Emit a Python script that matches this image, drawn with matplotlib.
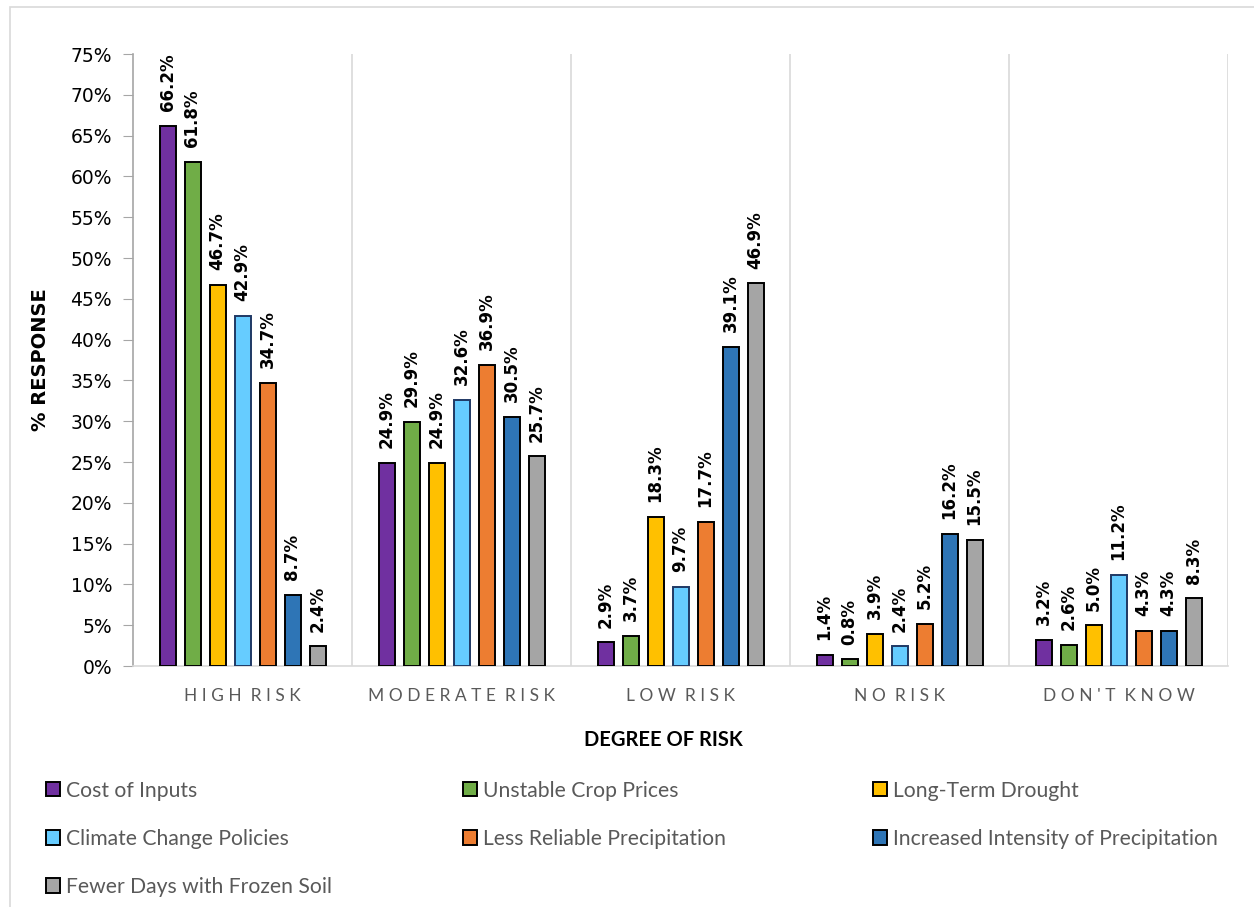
import matplotlib
matplotlib.use("Agg")
import matplotlib.pyplot as plt
from matplotlib.patches import Rectangle, Patch
import numpy as np

categories = ["HIGH RISK", "MODERATE RISK", "LOW RISK", "NO RISK", "DON'T KNOW"]
series_names = [
    "Cost of Inputs",
    "Unstable Crop Prices",
    "Long-Term Drought",
    "Climate Change Policies",
    "Less Reliable Precipitation",
    "Increased Intensity of Precipitation",
    "Fewer Days with Frozen Soil",
]
cost_of_inputs = [66.2, 24.9, 2.9, 1.4, 3.2]
unstable_crop_prices = [61.8, 29.9, 3.7, 0.8, 2.6]
long_term_drought = [46.7, 24.9, 18.3, 3.9, 5.0]
climate_change_policies = [42.9, 32.6, 9.7, 2.4, 11.2]
less_reliable_precip = [34.7, 36.9, 17.7, 5.2, 4.3]
increased_intensity = [8.7, 30.5, 39.1, 16.2, 4.3]
fewer_frozen_days = [2.4, 25.7, 46.9, 15.5, 8.3]
series_values = [cost_of_inputs, unstable_crop_prices, long_term_drought,
                 climate_change_policies, less_reliable_precip,
                 increased_intensity, fewer_frozen_days]
y_ticks = list(range(0, 80, 5))

colors = ["#7030A0", "#70AD47", "#FFC000", "#66CCFF", "#ED7D31", "#2E75B6", "#A5A5A5"]
edges = ["black", "black", "black", "#1F3864", "black", "black", "black"]

W, H = 1254, 907
fig = plt.figure(figsize=(W / 100, H / 100), dpi=100)
ax = fig.add_axes([133 / W, 1 - 666 / H, (1228 - 133) / W, (666 - 54) / H])

x = np.arange(len(categories))
slot = 25 / 219
width = 16 / 219
n = len(series_values)
for i, (vals, c, ec) in enumerate(zip(series_values, colors, edges)):
    pos = x + (i - (n - 1) / 2) * slot
    ax.bar(pos, vals, width=width, color=c, edgecolor=ec, linewidth=1.4,
           zorder=3, label=series_names[i])
    for px, v in zip(pos, vals):
        ax.text(px, v + 1.8, f"{v:.1f}%", rotation=90, ha="center", va="bottom",
                fontsize=12, fontweight="bold", family="DejaVu Sans", color="black")

ax.set_xlim(-0.5, len(categories) - 0.5)
ax.set_ylim(0, 75)
ax.set_yticks(y_ticks)
ax.set_yticklabels([f"{t}%" for t in y_ticks], fontsize=13.5, family="DejaVu Sans")
ax.set_xticks(x)
ax.set_xticklabels([" ".join(list(c)).replace("   ", "  ") for c in categories],
                   fontsize=12.5, family="Lato", color="#595959")
ax.tick_params(axis="x", length=0, pad=16)
ax.tick_params(axis="y", length=7, color="#A6A6A6", pad=8)

# category separators
for b in np.arange(0.5, len(categories), 1.0):
    ax.axvline(b, color="#D9D9D9", linewidth=1.2, zorder=1)

for s in ["top", "right"]:
    ax.spines[s].set_visible(False)
ax.spines["left"].set_color("#A6A6A6")
ax.spines["bottom"].set_color("#D9D9D9")
ax.spines["left"].set_linewidth(1.2)
ax.spines["bottom"].set_linewidth(1.2)

fig.text(40 / W, 1 - 360 / H, "% RESPONSE", rotation=90, ha="center", va="center",
         fontsize=14, fontweight="bold", family="DejaVu Sans")
fig.text(663 / W, 1 - 740 / H, "DEGREE OF RISK", ha="center", va="center",
         fontsize=14.5, fontweight="bold", family="Lato")

# legend, three columns at fixed positions
handles = [Patch(facecolor=c, edgecolor="black", linewidth=1.4) for c in colors]
col_groups = [[0, 3, 6], [1, 4], [2, 5]]
col_x = [35, 452, 862]
for cx, grp in zip(col_x, col_groups):
    leg = fig.legend([handles[i] for i in grp], [series_names[i] for i in grp],
                     loc="upper left", bbox_to_anchor=(cx / W, 1 - 770 / H),
                     frameon=False, ncol=1, handlelength=0.68, handleheight=0.68,
                     handletextpad=0.28, labelspacing=1.34, borderpad=0,
                     prop={"family": "Lato", "size": 15.2})
    for t in leg.get_texts():
        t.set_color("#595959")

# outer chart frame
fig.patches.append(Rectangle((10 / W, -0.05), 1.1, 1 - 7 / H + 0.05,
                             transform=fig.transFigure, fill=False,
                             edgecolor="#D9D9D9", linewidth=1.2))

fig.savefig("out.png", dpi=100)
